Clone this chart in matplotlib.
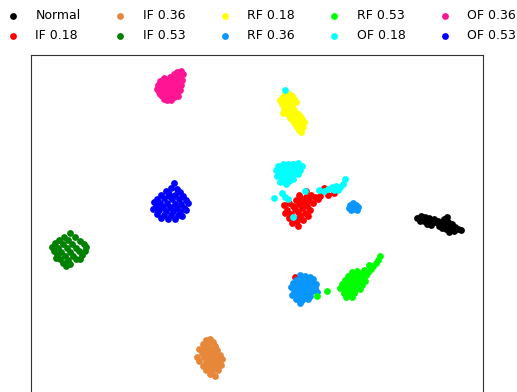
import matplotlib
matplotlib.use("Agg")
import matplotlib.pyplot as plt
import numpy as np

# 2-D embedding of the fault features (x, y per point), one array per class
normal = [(417,218),(421,216),(425,217),(429,218),(420,221),(424,221),(428,221),(432,220),
          (435,222),(427,224),(431,225),(438,221),(441,223),(444,220),(447,217),(445,224),
          (439,226),(442,228),(448,222),(450,226),(446,229),(452,228),(455,227),(458,229),
          (461,230),(454,231),(449,232),(444,219),(452,224),(434,219),(422,219)]
if_018 = [(324,188),(334,193),(328,195),(320,196),(315,197),(311,195),(306,197),(300,198),
          (296,200),(309,200),(318,199),(304,202),(313,203),(299,204),(289,203),(284,205),
          (293,206),(307,206),(302,208),(295,209),(287,210),(310,210),(298,212),(305,213),
          (291,214),(300,216),(294,218),(308,216),(289,218),(297,221),(303,220),(292,223),
          (298,226),(285,213),(299,195),(306,191),(295,277)]
if_036 = [(206,340),(210,339),(213,342),(203,344),(208,344),(215,346),(199,349),(205,348),
          (211,349),(217,350),(202,353),(208,353),(214,354),(220,355),(197,357),(204,357),
          (210,358),(216,359),(222,359),(199,361),(206,362),(212,362),(218,363),(203,366),
          (209,366),(215,367),(221,365),(206,370),(212,371),(218,370),(210,374),(215,376)]
if_053 = [(70,233),(64,237),(75,237),(59,240),(68,240),(80,241),(55,243),(63,244),(72,244),
          (84,244),(52,247),(58,248),(67,248),(76,248),(86,247),(54,251),(61,252),(70,252),
          (79,251),(85,251),(57,255),(65,256),(73,256),(82,255),(60,259),(68,260),(76,259),
          (63,263),(70,264),(56,258),(80,259),(66,266)]
rf_018 = [(285,93),(289,94),(292,96),(283,97),(287,98),(294,99),(280,100),(285,101),(290,102),
          (296,102),(282,104),(287,105),(292,106),(284,108),(289,109),(285,111),(288,114),
          (283,113),(295,113),(298,114),(293,116),(300,116),(290,118),(296,119),(302,119),
          (293,121),(299,122),(304,122),(295,124),(301,125),(297,127),(303,127),(299,130),
          (301,132),(291,111),(294,110)]
rf_036 = [(300,275),(305,276),(310,277),(296,280),(302,280),(308,280),(313,279),(293,283),
          (299,284),(305,284),(311,283),(316,284),(291,287),(297,288),(303,288),(309,287),
          (315,288),(294,292),(300,292),(306,292),(312,291),(317,292),(292,295),(298,296),
          (304,296),(310,296),(296,299),(302,300),(308,299),(300,303),
          (350,205),(353,203),(356,205),(352,208),(355,209),(358,207),(349,208),(354,206),
          (357,210),(351,210)]
rf_053 = [(380,256),(378,260),(376,263),(373,266),(371,269),(368,272),(366,275),(364,270),
          (369,265),(352,272),(357,271),(361,274),(348,276),(353,276),(358,277),(363,278),
          (345,280),(350,280),(355,281),(360,282),(365,281),(342,284),(347,285),(352,285),
          (357,286),(362,285),(340,288),(345,289),(350,289),(355,290),(360,289),(344,293),
          (349,294),(354,293),(346,297),(352,297),(327,291),(317,296)]
of_018 = [(278,166),(283,164),(288,164),(293,164),(298,163),(302,166),(276,170),(281,169),
          (286,168),(291,169),(296,168),(300,170),(279,173),(284,173),(289,173),(294,172),
          (298,174),(277,176),(282,177),(287,177),(292,176),(284,180),(289,181),(280,182),
          (286,184),(293,179),(345,179),(343,184),(340,187),(336,186),(332,187),(328,189),
          (324,191),(338,190),(334,190),(319,190),(274,198),(282,193),(285,197),(288,199),
          (305,191),(293,217),(285,90)]
of_036 = [(181,71),(177,72),(174,74),(183,74),(179,76),(170,77),(175,78),(164,78),(182,80),
          (167,80),(160,81),(172,81),(178,82),(163,83),(169,84),(175,84),(158,85),(181,85),
          (166,86),(172,87),(161,87),(177,88),(157,89),(168,89),(163,90),(173,90),(180,90),
          (159,92),(166,93),(171,93),(176,93),(162,96),(169,96),(174,97),(164,99),(171,100),
          (167,100),(178,96),(160,94),(170,80),(165,82),(174,86),(168,92),(161,84)]
of_053 = [(174,183),(171,188),(177,189),(166,191),(180,192),(161,195),(169,194),(175,195),
          (183,196),(157,199),(164,198),(172,199),(179,199),(186,200),(154,202),(160,203),
          (167,203),(175,204),(181,204),(188,203),(156,206),(163,207),(170,207),(177,208),
          (184,208),(159,210),(166,211),(173,211),(180,212),(186,210),(157,214),(164,215),
          (171,215),(178,215),(161,218),(168,219),(175,219),(182,216),(153,209),(169,196)]

labels = ["Normal", "IF 0.18", "IF 0.36", "IF 0.53", "RF 0.18",
          "RF 0.36", "RF 0.53", "OF 0.18", "OF 0.36", "OF 0.53"]
classes = [normal, if_018, if_036, if_053, rf_018, rf_036, rf_053, of_018, of_036, of_053]
colors = ["black", "red", "#e6873a", "green", "yellow",
          "#0a96ff", "#00ff00", "cyan", "#ff1493", "blue"]

fig = plt.figure(figsize=(5.17, 3.92), dpi=100)
ax = fig.add_axes([31/517, -8/392, 452/517, 345/392])

for pts, lab, col in zip(classes, labels, colors):
    pts = np.array(pts)
    ax.scatter(pts[:, 0], pts[:, 1], s=24, c=col, label=lab, linewidths=0)

ax.set_xlim(31, 483)
ax.set_ylim(400, 55)
ax.set_xticks([])
ax.set_yticks([])
for sp in ax.spines.values():
    sp.set_color("#333333")

fig.legend(loc="upper left", bbox_to_anchor=(-0.021, 1.005), ncol=5, frameon=False,
           fontsize=9, columnspacing=2.15, labelspacing=0.52, markerscale=1.0)

fig.savefig("out.png", dpi=100)
